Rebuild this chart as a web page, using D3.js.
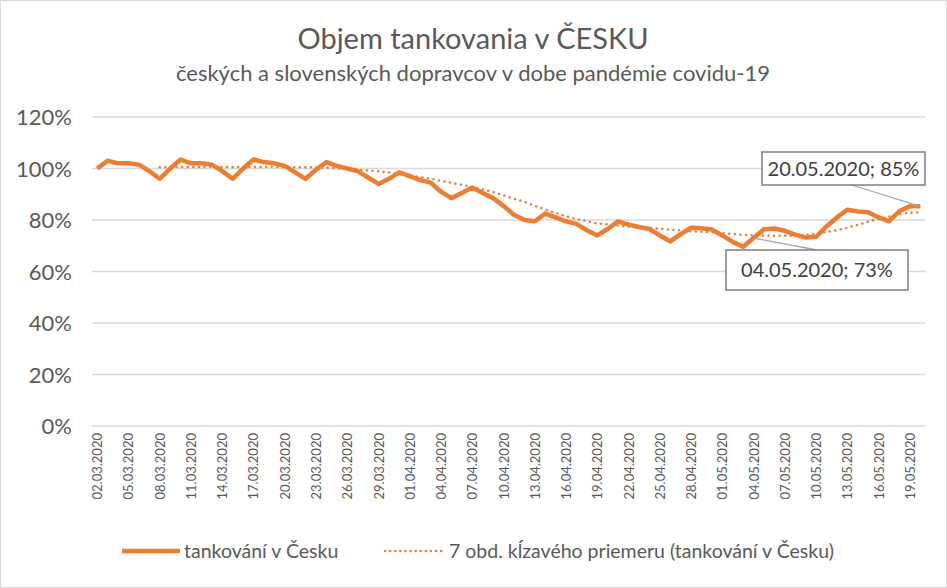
<!DOCTYPE html><html><head><meta charset="utf-8">
<script src="https://cdn.jsdelivr.net/npm/d3@7"></script>
<style>body{margin:0;background:#fff}text{font-family:Lato,"Open Sans",sans-serif}</style></head><body>
<svg id="c" width="947" height="588"></svg>
<script>
const startDate = new Date(2020,2,2);
const values = [100,103,102,102,101.5,99,96,100,103.5,102,102,101.5,99,96,100,103.5,102.5,102,101,98.5,96,99.5,102.5,101,100,99,96.5,94,96,98.5,97,95.5,94.5,91,88.5,90.5,92.6,90.5,88.5,85.5,82,80,79.5,82.5,81,79.5,78.5,76,74,76.5,79.5,78.2,77.3,76.5,74,71.7,74.5,77,76.8,76.3,74,71.5,69.6,73,76.4,76.7,75.8,74.3,73.2,73.5,77.5,81,84,83.3,83,81,79.5,83.5,85.3,85.3];
const yTicks = [0,20,40,60,80,100,120];
const fmt = d3.timeFormat("%d.%m.%Y");
const dates = values.map((v,i)=>fmt(d3.timeDay.offset(startDate,i)));
const ma = values.map((v,i)=> i<6?null:d3.mean(values.slice(i-6,i+1)));
const ann = [{i:79,label:"20.05.2020; 85%",bx:762,by:152,bw:163,bh:33},{i:63,label:"04.05.2020; 73%",bx:726,by:250,bw:182,bh:40}];

const svg=d3.select("#c");
svg.append("rect").attr("x",0.5).attr("y",0.5).attr("width",946).attr("height",587).attr("fill","#fff").attr("stroke","#d9d9d9");
const x=d3.scaleBand().domain(dates).range([92,925.5]);
const y=d3.scaleLinear().domain([0,120]).range([426,117]);
const cx=d=>x(d)+x.bandwidth()/2;
svg.append("g").selectAll("line").data(yTicks).join("line").attr("x1",92).attr("x2",925.5)
 .attr("y1",d=>y(d)).attr("y2",d=>y(d)).attr("stroke","#d9d9d9").attr("stroke-width",1.3);
svg.append("g").selectAll("text").data(yTicks).join("text").attr("x",72).attr("y",d=>y(d)+8)
 .attr("text-anchor","end").attr("fill","#595959").attr("font-size",22).text(d=>d+"%");
svg.append("g").selectAll("text").data(dates.filter((d,i)=>i%3===0)).join("text")
 .attr("transform",d=>`translate(${cx(d)+5},433) rotate(-90)`).attr("text-anchor","end")
 .attr("fill","#595959").attr("font-size",13).text(d=>d);
svg.append("path").datum(values).attr("fill","none").attr("stroke","#ed7d31").attr("stroke-width",4.5)
 .attr("stroke-linejoin","round").attr("d",d3.line().x((d,i)=>cx(dates[i])).y(d=>y(d)));
svg.append("path").datum(ma).attr("fill","none").attr("stroke","#ed7d31").attr("stroke-width",2.5)
 .attr("stroke-dasharray","0.1 5.5").attr("stroke-linecap","round")
 .attr("d",d3.line().defined(d=>d!=null).x((d,i)=>cx(dates[i])).y(d=>y(d)));
ann.forEach(a=>{
  const px=cx(dates[a.i]), py=y(values[a.i]);
  const lx = a.i===79? a.bx+a.bw*0.55 : a.bx+a.bw*0.5;
  const ly = a.i===79? a.by+a.bh : a.by;
  svg.append("line").attr("x1",lx).attr("y1",ly).attr("x2",px).attr("y2",py).attr("stroke","#a6a6a6").attr("stroke-width",1.3);
  svg.append("rect").attr("x",a.bx).attr("y",a.by).attr("width",a.bw).attr("height",a.bh).attr("fill","#fff").attr("stroke","#7f7f7f").attr("stroke-width",1.5);
  svg.append("text").attr("x",a.bx+a.bw/2).attr("y",a.by+a.bh/2+7).attr("text-anchor","middle").attr("fill","#404040").attr("font-size",20).text(a.label);
});
svg.append("text").attr("x",473).attr("y",49).attr("text-anchor","middle").attr("fill","#595959").attr("font-size",29).text("Objem tankovania v ČESKU");
svg.append("text").attr("x",473).attr("y",81).attr("text-anchor","middle").attr("fill","#595959").attr("font-size",22).text("českých a slovenských dopravcov v dobe pandémie covidu-19");
const lg=svg.append("g");
lg.append("line").attr("x1",122).attr("x2",180).attr("y1",551).attr("y2",551).attr("stroke","#ed7d31").attr("stroke-width",4.5);
lg.append("text").attr("x",184).attr("y",558).attr("fill","#595959").attr("font-size",19.5).text("tankování v Česku");
lg.append("line").attr("x1",385).attr("x2",443).attr("y1",551).attr("y2",551).attr("stroke","#ed7d31").attr("stroke-width",2.5).attr("stroke-dasharray","0.1 5").attr("stroke-linecap","round");
lg.append("text").attr("x",449).attr("y",558).attr("fill","#595959").attr("font-size",19.5).text("7 obd. kĺzavého priemeru (tankování v Česku)");
</script></body></html>
